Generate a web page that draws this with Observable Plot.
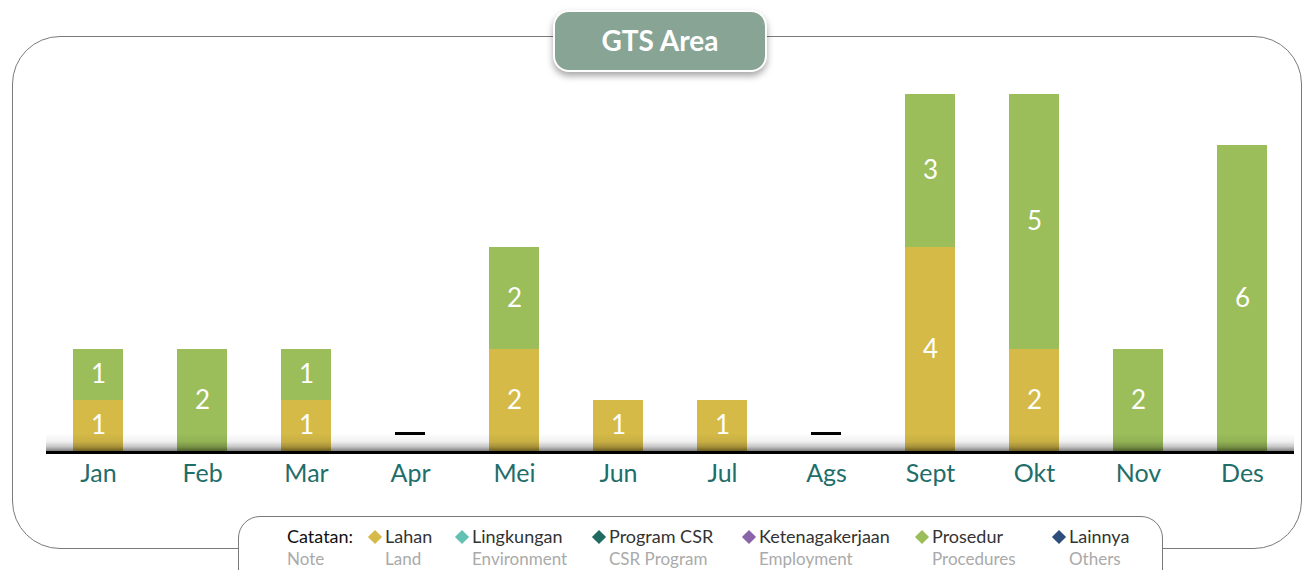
<!DOCTYPE html>
<html><head><meta charset="utf-8">
<script src="https://cdn.jsdelivr.net/npm/d3@7"></script>
<script src="https://cdn.jsdelivr.net/npm/@observablehq/plot@0.6"></script>
<style>
body{margin:0;background:#fff;font-family:Lato,sans-serif;}
#wrap{position:relative;width:1306px;height:570px;overflow:hidden;background:#fff;}
#frame{position:absolute;left:12px;top:36px;width:1290px;height:513px;box-sizing:border-box;border:1.5px solid #7a7a7a;border-radius:48px;}
#chart{position:absolute;left:0;top:0;}
#title{position:absolute;left:553px;top:10px;width:214px;height:62px;box-sizing:border-box;background:#88a494;border:2px solid #fff;border-radius:16px;box-shadow:0 4px 7px rgba(0,0,0,.35);color:#fff;font:bold 28px Lato,sans-serif;text-align:center;line-height:56px;}
#legend{position:absolute;left:238px;top:516px;width:925px;height:90px;box-sizing:border-box;background:#fff;border:1.5px solid #7a7a7a;border-radius:22px;}
.lt{position:absolute;white-space:nowrap;line-height:1;}
.top{font-size:18px;color:#333;}
.bot{font-size:17px;color:#aaa;}
.dia{position:absolute;width:10px;height:10px;transform:rotate(45deg);}
</style></head>
<body><div id="wrap"><div id="frame"></div><div id="chart"></div><div id="title">GTS Area</div><div id="legend"></div></div>
<script>
// ---- data ----
const months = ["Jan","Feb","Mar","Apr","Mei","Jun","Jul","Ags","Sept","Okt","Nov","Des"];
const lahan    = [1,0,1,0,2,1,1,0,4,2,0,0];
const prosedur = [1,2,1,0,2,0,0,0,3,5,2,6];
const categories = ["Lahan","Prosedur"];
const catColors = ["#d5ba48","#9bbd5a"];
const legendLabel = "Catatan:";
const legendLabelNote = "Note";
const legendNames = ["Lahan","Lingkungan","Program CSR","Ketenagakerjaan","Prosedur","Lainnya"];
const legendNotes = ["Land","Environment","CSR Program","Employment","Procedures","Others"];
const legendColors = ["#d5ba48","#62c1b1","#1f6b62","#8a64a8","#9bbd5a","#2d4e7a"];

// ---- build table ----
const series = [lahan, prosedur];
const rows = [];
categories.forEach((c, ci) => months.forEach((m, i) => {
  if (series[ci][i] > 0) rows.push({month: m, cat: c, value: series[ci][i]});
}));
const zeros = months.filter((m, i) => lahan[i] + prosedur[i] === 0);

const plot = Plot.plot({
  width: 1306, height: 500,
  marginLeft: 46, marginRight: 12, marginTop: 94, marginBottom: 49,
  style: {fontFamily: "Lato, sans-serif", fontSize: "25px", color: "#1f6e6a", background: "transparent", overflow: "visible"},
  x: {domain: months, paddingInner: 0.52, paddingOuter: 0.26, tickSize: 0, tickPadding: 13, label: null},
  y: {domain: [0, 7], axis: null},
  color: {domain: categories, range: catColors},
  marks: [
    Plot.barY(rows, {x: "month", y: "value", fill: "cat", z: "cat"}),
    Plot.text(rows, Plot.stackY({x: "month", y: "value", z: "cat", text: d => String(d.value), fill: "white", fontSize: 26, fontWeight: 400})),
    Plot.rect([0], {y1: () => 0, y2: () => 0.34, fill: "url(#shadowGrad)", ariaLabel: "shadow"}),
    Plot.ruleY([0], {stroke: "#000", strokeWidth: 3, dy: 1}),
    Plot.tickY(zeros, {x: d => d, y: () => 0, dy: -18, stroke: "#000", strokeWidth: 3, insetLeft: 10, insetRight: 10})
  ]
});
const sel = d3.select(plot);
sel.insert("defs", ":first-child").html(
  '<linearGradient id="shadowGrad" x1="0" y1="0" x2="0" y2="1">' +
  '<stop offset="0" stop-color="#000" stop-opacity="0"/>' +
  '<stop offset="0.45" stop-color="#000" stop-opacity="0.06"/>' +
  '<stop offset="0.75" stop-color="#000" stop-opacity="0.22"/>' +
  '<stop offset="1" stop-color="#000" stop-opacity="0.5"/></linearGradient>' +
  '<filter id="shadowBlur" x="-5%" y="-50%" width="110%" height="200%"><feGaussianBlur stdDeviation="8 0.5"/></filter>');
sel.select('g[aria-label="shadow"]').attr("filter", "url(#shadowBlur)");
document.getElementById("chart").appendChild(plot);

// ---- legend (HTML) ----
const wrap = document.getElementById("wrap");
function addText(txt, cls, x, y, color) {
  const s = document.createElement("div");
  s.className = "lt " + cls; s.textContent = txt;
  s.style.left = x + "px"; s.style.top = y + "px";
  if (color) s.style.color = color;
  wrap.appendChild(s);
}
addText(legendLabel, "top", 287, 527, "#111");
addText(legendLabelNote, "bot", 287, 550);
const itemX = [385, 472, 609, 759, 932, 1069];
legendNames.forEach((n, i) => {
  const d = document.createElement("div");
  d.className = "dia"; d.style.background = legendColors[i];
  d.style.left = (itemX[i] - 15) + "px"; d.style.top = "532px";
  wrap.appendChild(d);
  addText(n, "top", itemX[i], 527);
  addText(legendNotes[i], "bot", itemX[i], 550);
});
</script></body></html>
